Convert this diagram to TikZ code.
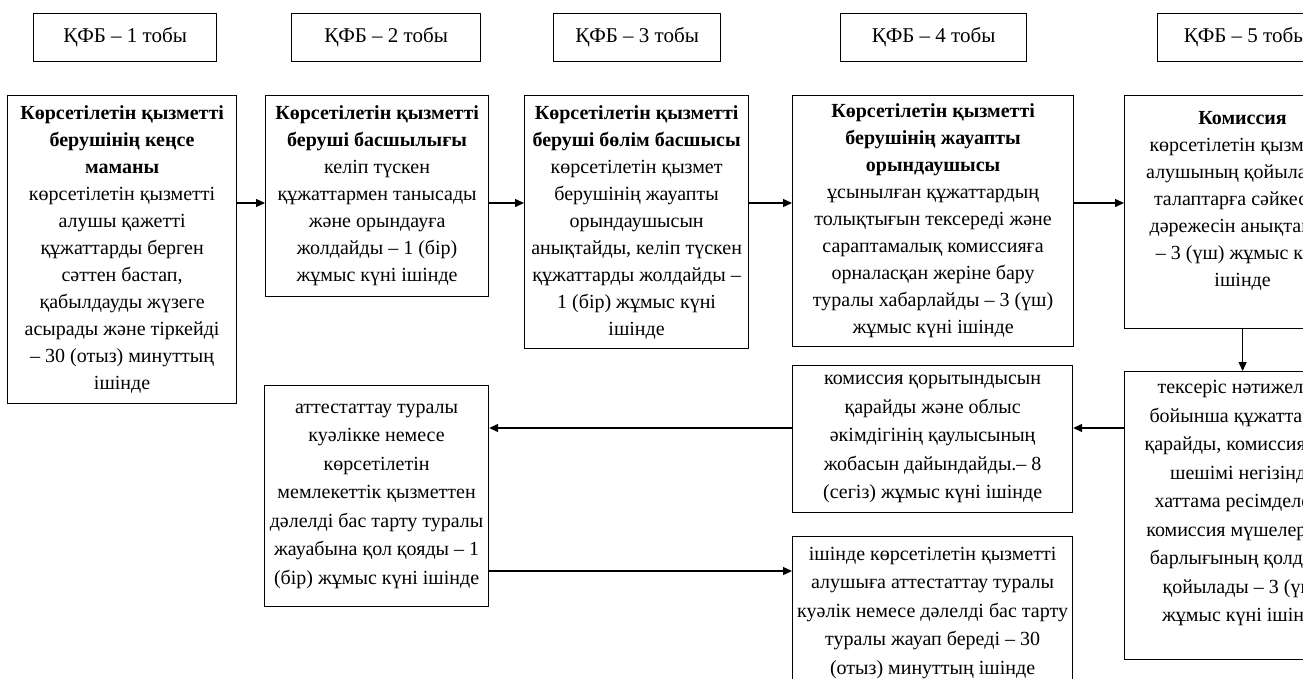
\documentclass[tikz,border=0pt]{standalone}
\usepackage{fontspec}
\setmainfont{Liberation Serif}
\usetikzlibrary{arrows.meta}

\tikzset{
grp/.style={draw, line width=1.2pt, minimum height=48, anchor=north west, inner sep=2pt, font=\fontsize{21}{25}\selectfont},
box/.style={draw, line width=1.2pt, align=center, anchor=north west, inner xsep=2pt, inner ysep=2pt, font=\fontsize{20}{27}\selectfont},
lowbox/.style={box, font=\fontsize{20}{28.5}\selectfont},
arr/.style={line width=1.3pt, -{Triangle[length=9pt,width=8pt]}}
}

\begin{document}
\begin{tikzpicture}[x=1pt,y=-1pt]
\useasboundingbox (0,0) rectangle (1303,679);
\clip (0,0) rectangle (1303,679);
% group headers
\node[grp, minimum width=183] (g1) at (33,13) {ҚФБ – 1 тобы};
\node[grp, minimum width=189] (g2) at (291,13) {ҚФБ – 2 тобы};
\node[grp, minimum width=167] (g3) at (553,13) {ҚФБ – 3 тобы};
\node[grp, minimum width=186] (g4) at (840,13) {ҚФБ – 4 тобы};
\node[grp, minimum width=176] (g5) at (1157,13) {ҚФБ – 5 тобы};
% first row
\node[box, minimum width=229, minimum height=308] (kense) at (7,95)
{\textbf{Көрсетілетін қызметті}\\ \textbf{берушінің кеңсе}\\ \textbf{маманы}\\
көрсетілетін қызметті\\ алушы қажетті\\ құжаттарды берген\\ сәттен бастап,\\
қабылдауды жүзеге\\ асырады және тіркейді\\ – 30 (отыз) минуттың\\ ішінде};
\node[box, minimum width=223, minimum height=201] (basshy) at (265,95)
{\textbf{Көрсетілетін қызметті}\\ \textbf{беруші басшылығы}\\ келіп түскен\\
құжаттармен танысады\\ және орындауға\\ жолдайды – 1 (бір)\\ жұмыс күні ішінде};
\node[box, minimum width=224, minimum height=253] (bolim) at (524,95)
{\textbf{Көрсетілетін қызметті}\\ \textbf{беруші бөлім басшысы}\\ көрсетілетін қызмет\\
берушінің жауапты\\ орындаушысын\\ анықтайды, келіп түскен\\ құжаттарды жолдайды –\\
1 (бір) жұмыс күні\\ ішінде};
\node[box, minimum width=281, minimum height=251] (oryndau) at (792,95)
{\textbf{Көрсетілетін қызметті}\\ \textbf{берушінің жауапты}\\ \textbf{орындаушысы}\\
ұсынылған құжаттардың\\ толықтығын тексереді және\\ сараптамалық комиссияға\\
орналасқан жеріне бару\\ туралы хабарлайды – 3 (үш)\\ жұмыс күні ішінде};
\node[box, minimum width=236, minimum height=233] (komissiya) at (1124,95)
{\textbf{Комиссия}\\ көрсетілетін қызметті\\ алушының қойылатын\\ талаптарға сәйкестік\\
дәрежесін анықтайды\\ – 3 (үш) жұмыс күні\\ ішінде\\ \mbox{}};
% lower rows
\node[lowbox, minimum width=236, minimum height=288] (tekseris) at (1124,371)
{тексеріс нәтижелері\\ бойынша құжаттарды\\ қарайды, комиссияның\\ шешімі негізінде\\
хаттама ресімделеді,\\ комиссия мүшелерінің\\ барлығының қолдары\\ қойылады – 3 (үш)\\
жұмыс күні ішінде\\ \mbox{}};
\node[lowbox, minimum width=280, minimum height=147] (qorytyndy) at (792,365)
{комиссия қорытындысын\\ қарайды және облыс\\ әкімдігінің қаулысының\\
жобасын дайындайды.– 8\\ (сегіз) жұмыс күні ішінде};
\node[lowbox, minimum width=280, minimum height=152] (zhauap) at (792,536)
{ішінде көрсетілетін қызметті\\ алушыға аттестаттау  туралы\\ куәлік немесе дәлелді бас тарту\\
туралы жауап береді – 30\\ (отыз) минуттың ішінде};
\node[lowbox, minimum width=224, minimum height=221] (kualik) at (264,385)
{аттестаттау туралы\\ куәлікке немесе\\ көрсетілетін\\ мемлекеттік қызметтен\\
дәлелді бас тарту туралы\\ жауабына қол қояды – 1\\ (бір) жұмыс күні ішінде};
% arrow levels
\coordinate (row1) at (0,203);
\coordinate (row2) at (0,428);
\coordinate (row3) at (0,571);
\draw[arr] (kense.east |- row1) -- (basshy.west |- row1);
\draw[arr] (basshy.east |- row1) -- (bolim.west |- row1);
\draw[arr] (bolim.east |- row1) -- (oryndau.west |- row1);
\draw[arr] (oryndau.east |- row1) -- (komissiya.west |- row1);
\draw[arr] (komissiya) -- (tekseris);
\draw[arr] (tekseris.west |- row2) -- (qorytyndy.east |- row2);
\draw[arr] (qorytyndy.west |- row2) -- (kualik.east |- row2);
\draw[arr] (kualik.east |- row3) -- (zhauap.west |- row3);
\end{tikzpicture}
\end{document}
